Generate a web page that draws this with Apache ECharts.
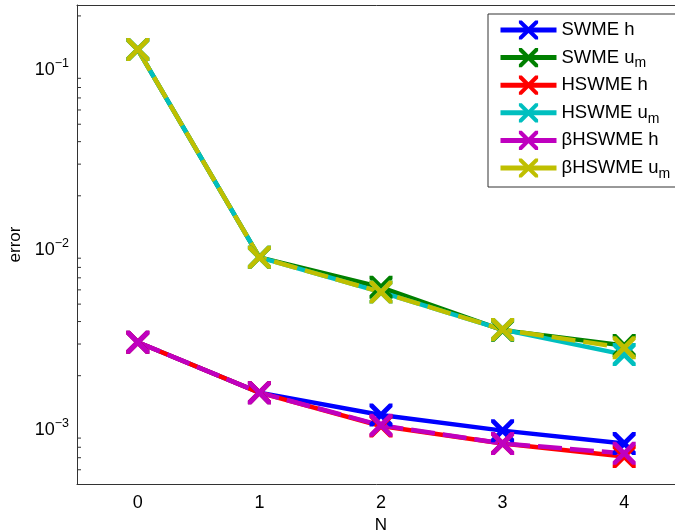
<!DOCTYPE html>
<html>
<head>
<meta charset="utf-8">
<script src="https://cdn.jsdelivr.net/npm/echarts@6/dist/echarts.min.js"></script>
<style>
  html,body{margin:0;padding:0;background:#fff;}
  #chart{width:675px;height:531px;}
</style>
</head>
<body>
<div id="chart"></div>
<script>
// data
var nValues = ['0', '1', '2', '3', '4'];
var swmeH    = [0.00307, 0.00161, 0.00121, 0.00099, 0.00084];
var swmeU    = [0.130, 0.0091, 0.00620, 0.00358, 0.00294];
var hswmeH   = [0.00307, 0.00161, 0.00105, 0.00084, 0.00071];
var hswmeU   = [0.130, 0.0091, 0.00583, 0.00361, 0.00262];
var bhswmeH  = [0.00307, 0.00161, 0.00106, 0.00084, 0.00074];
var bhswmeU  = [0.130, 0.0091, 0.00583, 0.00361, 0.00286];
var names = ['SWME h', 'SWME u', 'HSWME h', 'HSWME u', 'βHSWME h', 'βHSWME u'];
var colors = ['#0000ff', '#008000', '#ff0000', '#00bfbf', '#bf00bf', '#bfbf00'];
var majorTicks = [0.001, 0.01, 0.1];
var minorTicks = [0.0006, 0.0007, 0.0008, 0.0009,
  0.002, 0.003, 0.004, 0.005, 0.006, 0.007, 0.008, 0.009,
  0.02, 0.03, 0.04, 0.05, 0.06, 0.07, 0.08, 0.09, 0.2];

var xMark = 'path://M0,0 L3,0 L10,7 L17,0 L20,0 L20,3 L13,10 L20,17 L20,20 L17,20 L10,13 L3,20 L0,20 L0,17 L7,10 L0,3 Z';
var font = 'Liberation Sans';

var allData = [swmeH, swmeU, hswmeH, hswmeU, bhswmeH, bhswmeU];
var dashed = [false, false, false, false, true, true];

var series = allData.map(function (d, i) {
  return {
    name: names[i],
    type: 'line',
    data: d,
    symbol: xMark,
    symbolSize: 23,
    showAllSymbol: true,
    color: colors[i],
    itemStyle: {color: colors[i]},
    lineStyle: {width: 4.5, color: colors[i], type: dashed[i] ? [24, 8] : 'solid'},
    emphasis: {disabled: true},
    animation: false
  };
});

series.push({
  type: 'custom',
  silent: true,
  animation: false,
  data: minorTicks.map(function (v) { return [0, v]; }),
  renderItem: function (params, api) {
    var p = api.coord([0, api.value(1)]);
    var left = params.coordSys.x;
    return {
      type: 'line',
      shape: {x1: left, y1: p[1], x2: left + 4, y2: p[1]},
      style: {stroke: '#333', lineWidth: 1}
    };
  }
});

var myChart = echarts.init(document.getElementById('chart'));
var option = {
  backgroundColor: '#fff',
  animation: false,
  grid: {left: 77, top: 5, width: 608, height: 479, containLabel: false, outerBoundsMode: 'none'},
  legend: {
    data: names,
    orient: 'vertical',
    left: 488,
    top: 14,
    width: 240,
    padding: [3, 60, 6, 10],
    itemGap: 1.6,
    itemWidth: 56,
    itemHeight: 24,
    backgroundColor: '#fff',
    borderColor: '#333',
    borderWidth: 1,
    borderRadius: 0,
    lineStyle: {type: 'solid', width: 5},
    selectedMode: false,
    formatter: function (name) {
      var sub = name.slice(-2) === ' u' ? 'm' : ' ';
      return '{t|' + name + '}{s|' + sub + '}';
    },
    textStyle: {
      fontFamily: font, color: '#000', fontSize: 18,
      rich: {
        t: {fontFamily: font, fontSize: 18.5, color: '#000', lineHeight: 18},
        s: {fontFamily: font, fontSize: 14, color: '#000', lineHeight: 14, padding: [12, 0, 0, 0]}
      }
    }
  },
  xAxis: [{
    type: 'category',
    data: nValues,
    boundaryGap: true,
    name: 'N',
    nameLocation: 'middle',
    nameGap: 29,
    nameTextStyle: {fontFamily: font, fontSize: 17, color: '#000'},
    axisLine: {lineStyle: {color: '#333', width: 1}},
    axisTick: {inside: true, alignWithLabel: true, length: 5, lineStyle: {color: '#333'}},
    axisLabel: {fontFamily: font, fontSize: 18, color: '#000', margin: 10},
    splitLine: {show: false}
  }, {
    type: 'category',
    data: nValues,
    position: 'top',
    boundaryGap: true,
    axisLine: {lineStyle: {color: '#333', width: 1}},
    axisTick: {inside: true, alignWithLabel: true, length: 5, lineStyle: {color: '#333'}},
    axisLabel: {show: false},
    splitLine: {show: false}
  }],
  yAxis: {
    type: 'log',
    logBase: 10,
    min: 0.0005,
    max: 0.23,
    name: 'error',
    nameLocation: 'middle',
    nameGap: 51,
    nameRotate: 90,
    nameTextStyle: {fontFamily: font, fontSize: 17, color: '#000'},
    axisLine: {show: true, lineStyle: {color: '#333', width: 1}},
    axisTick: {inside: true, length: 6, lineStyle: {color: '#333'}},
    axisLabel: {
      showMinLabel: false,
      showMaxLabel: false,
      margin: 8,
      formatter: function (v) {
        for (var k = 0; k < majorTicks.length; k++) {
          if (Math.abs(v - majorTicks[k]) / majorTicks[k] < 1e-6) {
            return '{b|10}{e|\u2212' + Math.round(-Math.log10(v)) + '}';
          }
        }
        return '';
      },
      rich: {
        b: {fontFamily: font, fontSize: 18, color: '#000'},
        e: {fontFamily: font, fontSize: 12.5, color: '#000', padding: [0, 0, 13, 0]}
      }
    },
    splitLine: {show: false}
  },
  series: series
};
myChart.setOption(option);
</script>
</body>
</html>
